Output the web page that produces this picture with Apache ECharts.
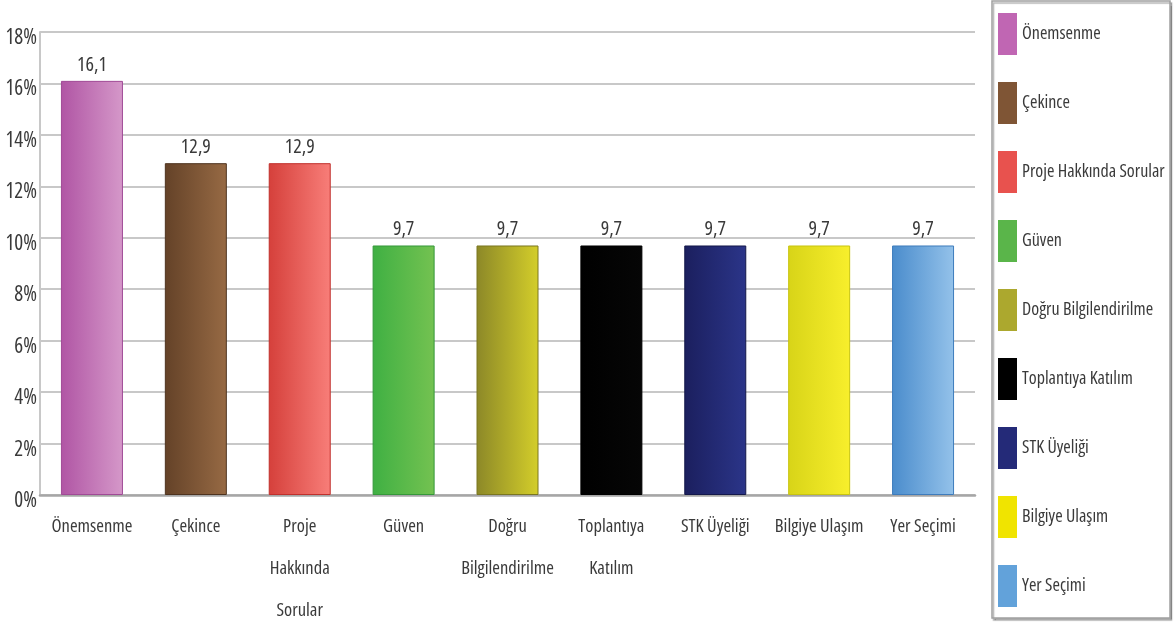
<!DOCTYPE html>
<html>
<head>
<meta charset="utf-8">
<script src="https://cdn.jsdelivr.net/npm/echarts@6/dist/echarts.min.js"></script>
<style>
html,body{margin:0;padding:0;background:#fff;}
#chart{width:1176px;height:623px;}
</style>
</head>
<body>
<div id="chart"></div>
<script>
const categories = ['Önemsenme', 'Çekince', 'Proje Hakkında Sorular', 'Güven', 'Doğru Bilgilendirilme', 'Toplantıya Katılım', 'STK Üyeliği', 'Bilgiye Ulaşım', 'Yer Seçimi'];
const tickLabels = ['Önemsenme', 'Çekince', 'Proje\nHakkında\nSorular', 'Güven', 'Doğru\nBilgilendirilme', 'Toplantıya\nKatılım', 'STK Üyeliği', 'Bilgiye Ulaşım', 'Yer Seçimi'];
const values = [16.1, 12.9, 12.9, 9.7, 9.7, 9.7, 9.7, 9.7, 9.7];
const yTicks = [0, 2, 4, 6, 8, 10, 12, 14, 16, 18];
const colorLeft  = ['#b055a4', '#644228', '#d5403b', '#3fb043', '#8c8828', '#000000', '#1b1f5e', '#d8d418', '#4a8ccc'];
const colorRight = ['#d598c9', '#976a44', '#f87e79', '#74c251', '#d4ce2a', '#060606', '#2b3589', '#f8ef2c', '#94c2ea'];
const legendColors = ['#c066b3', '#7f5535', '#e8524e', '#5ab54a', '#aca82e', '#000000', '#242a78', '#f0e400', '#62a2da'];
const borderColors = ['#a04a96', '#4e331f', '#c0302c', '#35983a', '#7a7620', '#000000', '#14184a', '#c8c410', '#3e7cbc'];

const FONT = "'Open Sans', sans-serif";
const STRETCH = 'condensed';
const TXT = '#3a3a3a';

const chart = echarts.init(document.getElementById('chart'));

const series = categories.map((name, i) => ({
  name: name,
  type: 'bar',
  stack: 'all',
  barWidth: 62,
  data: categories.map((c, j) => (j === i ? values[i] : '-')),
  itemStyle: {
    color: {
      type: 'linear', x: 0, y: 0, x2: 1, y2: 0,
      colorStops: [{offset: 0, color: colorLeft[i]}, {offset: 1, color: colorRight[i]}]
    },
    borderColor: borderColors[i],
    borderWidth: 1
  },
  label: {
    show: true,
    position: 'top',
    distance: 6,
    fontFamily: FONT,
    fontStyle: STRETCH,
    fontSize: 20,
    color: TXT,
    formatter: p => p.value.toFixed(1).replace('.', ',')
  }
}));

chart.setOption({
  animation: false,
  backgroundColor: '#fff',
  grid: {left: 40, right: 201, top: 32, bottom: 128, containLabel: false, outerBoundsMode: 'none'},
  graphic: [{
    type: 'rect',
    shape: {x: 992, y: 1, width: 178, height: 617},
    style: {fill: '#fff', stroke: '#a0a0a0', lineWidth: 1.5, shadowColor: 'rgba(0,0,0,0.3)', shadowOffsetX: 1.5, shadowOffsetY: 2, shadowBlur: 1},
    z: -1
  }],
  legend: {
    orient: 'vertical',
    left: 998,
    top: 13,
    padding: 0,
    itemWidth: 19,
    itemHeight: 42,
    itemGap: 27,
    textStyle: {fontFamily: FONT, fontStyle: STRETCH, fontSize: 18, color: TXT},
    data: categories.map((name, i) => ({name: name, icon: 'rect', itemStyle: {color: legendColors[i], borderWidth: 0}}))
  },
  xAxis: {
    type: 'category',
    data: categories,
    axisLine: {lineStyle: {color: '#a6a6a6', width: 2.5}},
    axisTick: {show: false},
    axisLabel: {
      interval: 0,
      margin: 11,
      fontFamily: FONT,
      fontStyle: STRETCH,
      fontSize: 18.5,
      lineHeight: 42,
      color: TXT,
      formatter: (v, idx) => tickLabels[idx]
    }
  },
  yAxis: {
    type: 'value',
    min: 0,
    max: 18,
    interval: 2,
    axisLine: {show: true, lineStyle: {color: '#c8c8c8', width: 2}},
    axisTick: {show: false},
    splitLine: {lineStyle: {color: '#c8c8c8', width: 2}},
    axisLabel: {
      margin: 3,
      color: TXT,
      formatter: v => (yTicks.indexOf(v) >= 0 ? '{p|' + v + '%}' : ''),
      rich: {
        p: {fontFamily: FONT, fontStyle: STRETCH, fontSize: 21, color: TXT, padding: [12, 0, 0, 0]}
      }
    }
  },
  series: series
});
</script>
</body>
</html>
